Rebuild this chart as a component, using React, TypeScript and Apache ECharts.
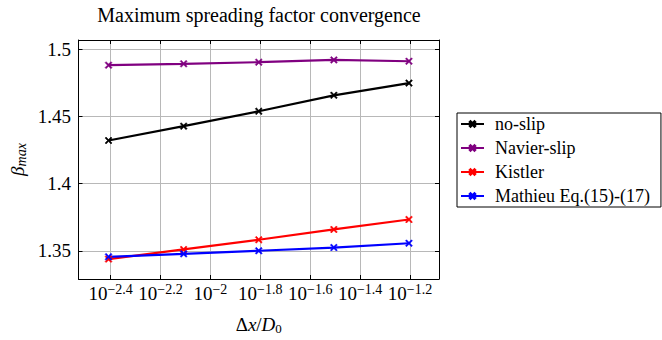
import React, { useEffect, useRef } from "react";
import * as echarts from "echarts";

// Grid spacing Δx/D0 and the maximum spreading factor for each model
const dxOverD0 = [1 / 256, 1 / 128, 1 / 64, 1 / 32, 1 / 16];
const noSlip = [1.4322, 1.4429, 1.454, 1.4659, 1.475];
const navierSlip = [1.4884, 1.4894, 1.4906, 1.4923, 1.4913];
const kistler = [1.3438, 1.351, 1.3582, 1.3659, 1.3733];
const mathieu = [1.3455, 1.3477, 1.35, 1.3524, 1.3556];

const seriesNames = ["no-slip", "Navier-slip", "Kistler", "Mathieu Eq.(15)-(17)"];
const seriesColors = ["#000000", "#800080", "#ff0000", "#0000ff"];

// Tick positions (log10 of Δx/D0) and β ticks
const xTickExps = [-2.4, -2.2, -2.0, -1.8, -1.6, -1.4, -1.2];
const yTicks = [1.35, 1.4, 1.45, 1.5];

const FONT = "Liberation Serif";
const CROSS =
  "path://M1.5,0L5,3.5L8.5,0L10,1.5L6.5,5L10,8.5L8.5,10L5,6.5L1.5,10L0,8.5L3.5,5L0,1.5Z";

const GRID = { left: 78, top: 40, width: 361, height: 240 };

export default function App() {
  const ref = useRef<HTMLDivElement>(null);

  useEffect(() => {
    if (!ref.current) return;
    const chart = echarts.init(ref.current, undefined, { renderer: "svg" });

    const logX = dxOverD0.map((d) => Math.log10(d));
    const allY = [...noSlip, ...navierSlip, ...kistler, ...mathieu];
    const yLo = Math.min(...allY);
    const yHi = Math.max(...allY);
    const xLo = Math.min(...logX);
    const xHi = Math.max(...logX);
    const xPad = (xHi - xLo) * 0.1;
    const yPad = (yHi - yLo) * 0.1;
    const xMin = xLo - xPad;
    const xMax = xHi + xPad;
    const yMin = yLo - yPad;
    const yMax = yHi + yPad;

    const fmtExp = (v: number) =>
      String(Math.round(v * 10) / 10).replace("-", "\u2212");

    const dataSets = [noSlip, navierSlip, kistler, mathieu];

    const frameAxis = (position: string, min: number, max: number, ticks: number[]) => ({
      type: "value",
      position,
      min,
      max,
      axisLine: { show: true, onZero: false, lineStyle: { color: "#000", width: 1 } },
      axisTick: {
        show: true,
        inside: true,
        length: 4,
        customValues: ticks,
        lineStyle: { color: "#000" },
      },
      axisLabel: { show: false },
      splitLine: { show: false },
    });

    chart.setOption({
      animation: false,
      backgroundColor: "#ffffff",
      grid: { ...GRID, containLabel: false },
      legend: {
        orient: "vertical",
        left: 457,
        top: 113,
        borderColor: "#000",
        borderWidth: 1,
        borderRadius: 0,
        padding: [1, 11, 1, 3],
        itemGap: 4,
        itemWidth: 23,
        itemHeight: 7,
        textStyle: {
          fontFamily: FONT,
          fontSize: 18,
          lineHeight: 20,
          color: "#000",
          padding: [0, 0, 0, 6],
        },
        data: seriesNames,
      },
      xAxis: [
        {
          ...frameAxis("bottom", xMin, xMax, xTickExps),
          name: "\u0394{i|x}/{i|D}{sub|0}",
          nameLocation: "middle",
          nameGap: 35,
          nameTextStyle: {
            fontFamily: FONT,
            fontSize: 19,
            color: "#000",
            rich: {
              i: { fontFamily: FONT, fontSize: 19, fontStyle: "italic" },
              sub: { fontFamily: FONT, fontSize: 13, verticalAlign: "bottom", padding: [8, 0, 0, 0] },
            },
          },
          splitLine: { show: true, lineStyle: { color: "#b8b8b8", width: 1 } },
        },
        frameAxis("top", xMin, xMax, xTickExps),
      ],
      yAxis: [
        {
          ...frameAxis("left", yMin, yMax, yTicks),
          name: "{i|\u03b2}{sub|max}",
          nameLocation: "middle",
          nameRotate: 90,
          nameGap: 50,
          nameTextStyle: {
            color: "#000",
            fontFamily: FONT,
            fontSize: 19,
            rich: {
              i: { fontFamily: FONT, fontSize: 19, fontStyle: "italic" },
              sub: { fontFamily: FONT, fontSize: 14, fontStyle: "italic", padding: [8, 0, 0, 0] },
            },
          },
          splitLine: { show: true, lineStyle: { color: "#b8b8b8", width: 1 } },
        },
        frameAxis("right", yMin, yMax, yTicks),
      ],
      series: dataSets.map((vals, i) => ({
        name: seriesNames[i],
        type: "line",
        xAxisIndex: 0,
        yAxisIndex: 0,
        data: vals.map((v, j) => [logX[j], v]),
        symbol: CROSS,
        symbolSize: 7,
        showSymbol: true,
        lineStyle: { color: seriesColors[i], width: 2.2 },
        itemStyle: { color: seriesColors[i], borderColor: seriesColors[i], borderWidth: 0.5 },
        emphasis: { disabled: true },
      })),
    });

    // Tick labels placed at the axis scale positions
    const axisBottom = GRID.top + GRID.height;
    const xLabels = xTickExps.map((e) => ({
      type: "text",
      x: chart.convertToPixel({ xAxisIndex: 0 }, e) as number,
      y: axisBottom + 2,
      silent: true,
      style: {
        text: `{b|10}{sup|${fmtExp(e)}}`,
        fill: "#000",
        fontFamily: FONT,
        fontSize: 19,
        textAlign: "center",
        textVerticalAlign: "top",
        rich: {
          b: { fontFamily: FONT, fontSize: 19, fill: "#000" },
          sup: {
            fontFamily: FONT,
            fontSize: 14,
            fill: "#000",
            verticalAlign: "top",
            padding: [0, 0, 8, 0],
          },
        },
      },
    }));
    const yLabels = yTicks.map((t) => ({
      type: "text",
      x: GRID.left - 7,
      y: chart.convertToPixel({ yAxisIndex: 0 }, t) as number,
      silent: true,
      style: {
        text: String(+t.toFixed(2)),
        fill: "#000",
        fontFamily: FONT,
        fontSize: 19,
        textAlign: "right",
        textVerticalAlign: "middle",
      },
    }));

    chart.setOption({
      graphic: [
        {
          type: "text",
          x: 259,
          y: 15,
          silent: true,
          style: {
            text: "Maximum spreading factor convergence",
            fontSize: 20,
            fontFamily: FONT,
            fill: "#000",
            textAlign: "center",
            textVerticalAlign: "middle",
          },
        },
        ...xLabels,
        ...yLabels,
      ],
    });

    return () => chart.dispose();
  }, []);

  return (
    <div
      ref={ref}
      style={{ position: "fixed", left: 0, top: 0, width: 662, height: 340 }}
    />
  );
}
